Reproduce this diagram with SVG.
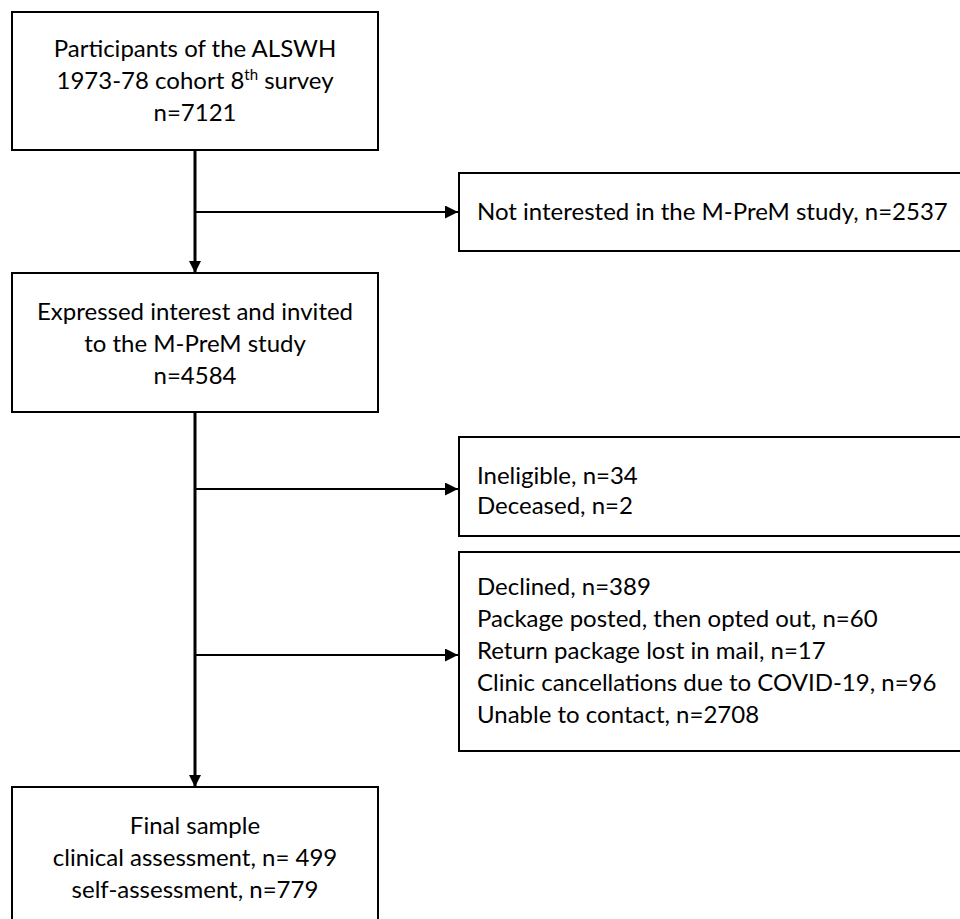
<svg xmlns="http://www.w3.org/2000/svg" width="960" height="919" viewBox="0 0 960 919">
<defs>
<style>
.box{fill:#fff;stroke:#000;stroke-width:2}
.t{font-family:Lato,"Open Sans","Liberation Sans",sans-serif;font-size:24px;fill:#000}
.c{text-anchor:middle}
.main{stroke:#000;stroke-width:3;fill:none}
.side{stroke:#000;stroke-width:2;fill:none}
</style>
<marker id="ah" viewBox="0 0 10 10" refX="10" refY="5" markerWidth="4" markerHeight="4" markerUnits="strokeWidth" orient="auto">
<path d="M0,0 L10,5 L0,10 z" fill="#000"/>
</marker>
<marker id="ah2" viewBox="0 0 10 10" refX="10" refY="5" markerWidth="6.5" markerHeight="6.5" markerUnits="strokeWidth" orient="auto">
<path d="M0,0 L10,5 L0,10 z" fill="#000"/>
</marker>
</defs>
<rect width="960" height="919" fill="#fff"/>
<g id="connectors">
<line class="main" x1="195" y1="150" x2="195" y2="273" marker-end="url(#ah)"/>
<line class="main" x1="195" y1="412" x2="195" y2="787" marker-end="url(#ah)"/>
<line class="side" x1="195" y1="212" x2="458" y2="212" marker-end="url(#ah2)"/>
<line class="side" x1="195" y1="489" x2="458" y2="489" marker-end="url(#ah2)"/>
<line class="side" x1="195" y1="655" x2="458" y2="655" marker-end="url(#ah2)"/>
</g>
<g id="n1">
<rect class="box" x="12" y="12" width="366" height="138"/>
<text class="t c" x="195" y="57">Participants of the ALSWH</text>
<text class="t c" x="195" y="89">1973-78 cohort 8<tspan font-size="15" baseline-shift="super">th</tspan> survey</text>
<text class="t c" x="195" y="121">n=7121</text>
</g>
<g id="n2">
<rect class="box" x="459" y="173" width="520" height="78"/>
<text class="t" x="477" y="220">Not interested in the M-PreM study, n=2537</text>
</g>
<g id="n3">
<rect class="box" x="12" y="273" width="366" height="139"/>
<text class="t c" x="195" y="320">Expressed interest and invited</text>
<text class="t c" x="195" y="352">to the M-PreM study</text>
<text class="t c" x="195" y="384">n=4584</text>
</g>
<g id="n4">
<rect class="box" x="459" y="437" width="520" height="99"/>
<text class="t" x="477" y="484">Ineligible, n=34</text>
<text class="t" x="477" y="514">Deceased, n=2</text>
</g>
<g id="n5">
<rect class="box" x="459" y="552" width="520" height="199"/>
<text class="t" x="477" y="595">Declined, n=389</text>
<text class="t" x="477" y="627">Package posted, then opted out, n=60</text>
<text class="t" x="477" y="659">Return package lost in mail, n=17</text>
<text class="t" x="477" y="691">Clinic cancellations due to COVID-19, n=96</text>
<text class="t" x="477" y="723">Unable to contact, n=2708</text>
</g>
<g id="n6">
<rect class="box" x="12" y="787" width="366" height="160"/>
<text class="t c" x="195" y="834">Final sample</text>
<text class="t c" x="195" y="866">clinical assessment, n= 499</text>
<text class="t c" x="195" y="898">self-assessment, n=779</text>
</g>
</svg>
